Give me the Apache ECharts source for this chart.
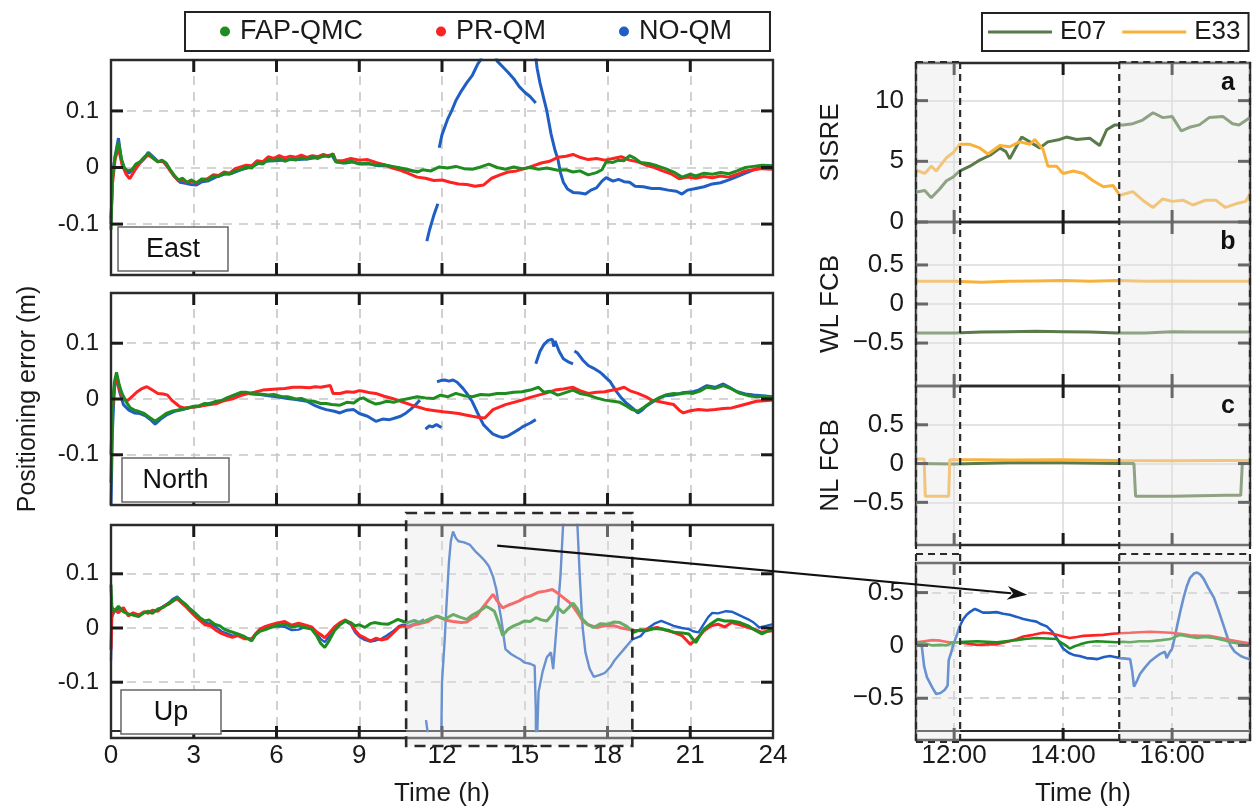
<!DOCTYPE html>
<html><head><meta charset="utf-8">
<script src="https://cdn.jsdelivr.net/npm/echarts@6/dist/echarts.min.js"></script>
<style>html,body{margin:0;padding:0;background:#fff}#c{width:1253px;height:808px}</style>
</head><body><div id="c"></div>
<script>
// ---------------- DATA ----------------
const seriesNames = ['FAP-QMC', 'PR-QM', 'NO-QM'];
const satNames = ['E07', 'E33'];
const panelLabels = ['East', 'North', 'Up'];
const leftXTicks = [3, 6, 9, 12, 15, 18, 21];
const leftYTicks = [-0.1, 0, 0.1];
const rightXTicks = [12, 14, 16];

// East component [hour, m]
const eastFAP = [[0,-0.11],[0.05,-0.02],[0.15,0.02],[0.27,0.045],[0.38,0.015],[0.48,0.0],[0.6,-0.006],[0.75,-0.004],[0.9,0.006],[1.05,0.01],[1.2,0.018],[1.35,0.025],[1.5,0.018],[1.7,0.01],[1.85,0.013],[2.0,0.008],[2.15,-0.004],[2.3,-0.014],[2.45,-0.022],[2.6,-0.019],[2.75,-0.026],[2.9,-0.022],[3.1,-0.027],[3.3,-0.02],[3.5,-0.023],[3.7,-0.015],[3.9,-0.016],[4.1,-0.01],[4.3,-0.012],[4.5,-0.006],[4.7,-0.004],[4.9,0.001],[5.1,-0.001],[5.3,0.008],[5.5,0.006],[5.7,0.014],[5.9,0.012],[6.1,0.016],[6.3,0.011],[6.5,0.015],[6.7,0.013],[6.9,0.017],[7.1,0.015],[7.3,0.019],[7.5,0.016],[7.7,0.021],[7.9,0.019],[8.05,0.024],[8.15,0.01],[8.4,0.008],[8.7,0.011],[9.0,0.006],[9.3,0.008],[9.6,0.004],[9.9,0.005],[10.2,0.002],[10.5,-0.001],[10.8,-0.004],[11.1,-0.008],[11.3,-0.004],[11.6,-0.006],[11.9,0.001],[12.2,-0.001],[12.5,0.002],[12.8,-0.002],[13.1,-0.003],[13.4,0.001],[13.7,0.006],[14.0,0.0],[14.3,-0.003],[14.6,0.001],[14.9,-0.002],[15.2,0.0],[15.5,-0.003],[15.8,-0.001],[16.2,-0.005],[16.5,-0.004],[16.75,-0.008],[17.0,-0.006],[17.3,-0.013],[17.6,-0.009],[17.8,-0.004],[17.95,0.01],[18.2,0.009],[18.4,0.013],[18.6,0.012],[18.8,0.021],[19.0,0.016],[19.2,0.009],[19.5,0.007],[19.8,0.003],[20.1,-0.002],[20.4,-0.008],[20.7,-0.017],[21.0,-0.012],[21.2,-0.015],[21.5,-0.01],[21.8,-0.012],[22.1,-0.009],[22.4,-0.011],[22.7,-0.006],[23.0,0.0],[23.3,0.002],[23.6,0.004],[24,0.003]];
const eastPR = [[0,-0.09],[0.05,-0.03],[0.15,0.015],[0.27,0.035],[0.4,0.005],[0.55,-0.012],[0.68,-0.02],[0.85,-0.006],[1.05,0.008],[1.2,0.016],[1.35,0.022],[1.5,0.017],[1.7,0.01],[1.85,0.012],[2.0,0.006],[2.15,-0.006],[2.3,-0.016],[2.45,-0.024],[2.6,-0.021],[2.75,-0.027],[2.9,-0.024],[3.1,-0.028],[3.3,-0.021],[3.5,-0.02],[3.7,-0.013],[3.9,-0.014],[4.1,-0.008],[4.3,-0.01],[4.5,-0.002],[4.7,0.001],[4.9,0.004],[5.1,0.003],[5.3,0.012],[5.5,0.01],[5.7,0.019],[5.9,0.016],[6.1,0.021],[6.3,0.017],[6.5,0.02],[6.7,0.018],[6.9,0.022],[7.1,0.018],[7.3,0.021],[7.5,0.019],[7.7,0.023],[7.9,0.02],[8.05,0.024],[8.15,0.012],[8.4,0.012],[8.7,0.016],[9.0,0.013],[9.3,0.014],[9.6,0.009],[9.9,0.005],[10.2,-0.001],[10.5,-0.005],[10.8,-0.011],[11.1,-0.017],[11.4,-0.019],[11.7,-0.023],[12.0,-0.022],[12.3,-0.026],[12.6,-0.029],[12.9,-0.03],[13.2,-0.033],[13.5,-0.031],[13.8,-0.019],[14.1,-0.013],[14.4,-0.008],[14.7,-0.006],[15.0,-0.002],[15.3,0.003],[15.6,0.008],[15.9,0.011],[16.2,0.018],[16.5,0.02],[16.75,0.023],[17.0,0.018],[17.3,0.014],[17.6,0.016],[17.9,0.013],[18.2,0.016],[18.5,0.019],[18.8,0.013],[19.1,0.01],[19.4,0.004],[19.7,0.0],[20.0,-0.006],[20.3,-0.011],[20.6,-0.02],[20.9,-0.017],[21.2,-0.019],[21.5,-0.016],[21.8,-0.018],[22.1,-0.015],[22.4,-0.017],[22.7,-0.012],[23.0,-0.006],[23.3,-0.004],[23.6,-0.002],[24,-0.003]];
const eastNO = [[0,-0.1],[0.05,-0.015],[0.15,0.02],[0.27,0.052],[0.38,0.012],[0.5,-0.003],[0.65,-0.01],[0.8,-0.003],[1.0,0.006],[1.2,0.015],[1.35,0.027],[1.5,0.02],[1.7,0.011],[1.9,0.01],[2.1,-0.002],[2.3,-0.016],[2.5,-0.026],[2.7,-0.028],[2.9,-0.03],[3.1,-0.031],[3.3,-0.025],[3.5,-0.024],[3.8,-0.017],[4.1,-0.012],[4.4,-0.01],[4.7,-0.004],[5.0,0.0],[5.3,0.006],[5.6,0.011],[5.9,0.012],[6.2,0.013],[6.5,0.014],[6.8,0.014],[7.1,0.015],[7.4,0.017],[7.7,0.02],[8.0,0.022],[8.15,0.01],[8.5,0.008],[8.8,0.01],[9.1,0.006],[9.4,0.006],[9.7,0.003],[10.0,0.003],[10.3,0.0],[10.6,-0.003],[10.9,-0.006],[11.2,-0.007],[11.3,null],[11.45,-0.13],[11.55,-0.11],[11.7,-0.085],[11.85,-0.064],[11.87,null],[11.9,0.035],[12.0,0.058],[12.2,0.085],[12.35,0.1],[12.5,0.118],[12.7,0.135],[12.9,0.15],[13.1,0.163],[13.3,0.183],[13.4,0.19],[13.6,0.23],[13.8,0.22],[14.0,0.188],[14.2,0.178],[14.4,0.168],[14.6,0.157],[14.8,0.143],[15.0,0.133],[15.2,0.125],[15.4,0.114],[15.41,null],[15.36,0.21],[15.45,0.175],[15.55,0.15],[15.7,0.12],[15.8,0.1],[15.95,0.06],[16.1,0.03],[16.2,0.015],[16.3,-0.01],[16.4,-0.026],[16.55,-0.038],[16.75,-0.044],[17.0,-0.045],[17.2,-0.047],[17.4,-0.04],[17.6,-0.036],[17.8,-0.024],[17.95,-0.018],[18.2,-0.024],[18.4,-0.021],[18.6,-0.025],[18.8,-0.026],[19.0,-0.033],[19.3,-0.034],[19.6,-0.037],[19.9,-0.037],[20.2,-0.04],[20.5,-0.042],[20.7,-0.047],[20.9,-0.04],[21.2,-0.037],[21.5,-0.034],[21.8,-0.029],[22.1,-0.027],[22.4,-0.022],[22.7,-0.016],[23.0,-0.01],[23.3,-0.004],[23.6,0.001],[24,0.002]];

// North component
const northFAP = [[0,-0.15],[0.05,-0.02],[0.12,0.03],[0.2,0.048],[0.3,0.025],[0.4,0.01],[0.55,-0.005],[0.7,-0.016],[0.85,-0.02],[1.0,-0.022],[1.2,-0.026],[1.4,-0.033],[1.6,-0.04],[1.8,-0.033],[2.0,-0.026],[2.2,-0.022],[2.4,-0.02],[2.6,-0.018],[2.8,-0.016],[3.0,-0.013],[3.2,-0.012],[3.4,-0.008],[3.6,-0.009],[3.8,-0.004],[4.0,-0.003],[4.2,0.002],[4.45,0.007],[4.7,0.012],[4.9,0.012],[5.1,0.01],[5.4,0.009],[5.7,0.007],[5.9,0.008],[6.2,0.004],[6.4,0.004],[6.7,0.0],[6.9,0.001],[7.1,-0.003],[7.35,-0.004],[7.6,-0.008],[7.8,-0.008],[8.0,-0.01],[8.3,-0.011],[8.55,-0.006],[8.8,-0.007],[9.0,0.0],[9.15,0.002],[9.35,-0.004],[9.6,-0.009],[9.8,-0.007],[10.0,-0.004],[10.25,-0.006],[10.5,-0.002],[10.8,0.001],[11.1,0.004],[11.4,0.002],[11.7,0.001],[11.95,0.007],[12.2,0.004],[12.5,0.01],[12.8,0.006],[13.1,0.004],[13.4,0.008],[13.7,0.007],[14.0,0.01],[14.3,0.01],[14.6,0.012],[14.9,0.013],[15.2,0.016],[15.5,0.021],[15.7,0.012],[15.9,0.014],[16.2,0.007],[16.5,0.012],[16.75,0.016],[17.0,0.01],[17.3,0.007],[17.6,0.002],[17.9,-0.002],[18.2,-0.004],[18.45,-0.006],[18.7,-0.013],[18.9,-0.019],[19.1,-0.022],[19.35,-0.014],[19.6,-0.005],[19.9,0.003],[20.1,0.007],[20.4,0.01],[20.6,0.009],[20.9,0.011],[21.1,0.01],[21.35,0.014],[21.6,0.021],[21.9,0.019],[22.2,0.024],[22.5,0.018],[22.8,0.01],[23.1,0.006],[23.4,0.004],[23.7,0.005],[24,0.003]];
const northPR = [[0,-0.1],[0.05,-0.02],[0.15,0.03],[0.22,0.04],[0.32,0.015],[0.45,0.0],[0.6,-0.003],[0.8,0.006],[0.95,0.013],[1.1,0.018],[1.3,0.022],[1.5,0.016],[1.7,0.01],[1.9,0.009],[2.05,0.007],[2.2,-0.002],[2.35,-0.008],[2.5,-0.014],[2.65,-0.016],[2.9,-0.015],[3.1,-0.014],[3.3,-0.012],[3.6,-0.01],[3.85,-0.008],[4.1,-0.003],[4.45,0.001],[4.7,0.006],[5.0,0.01],[5.2,0.012],[5.5,0.016],[5.75,0.017],[6.0,0.018],[6.3,0.019],[6.6,0.021],[6.9,0.021],[7.2,0.02],[7.4,0.022],[7.6,0.021],[7.8,0.023],[7.95,0.024],[8.05,0.01],[8.3,0.01],[8.55,0.013],[8.8,0.012],[9.0,0.015],[9.15,0.014],[9.4,0.011],[9.6,0.01],[9.9,0.005],[10.2,0.001],[10.5,-0.004],[10.85,-0.01],[11.1,-0.014],[11.45,-0.019],[11.75,-0.021],[12.05,-0.023],[12.3,-0.024],[12.6,-0.026],[12.9,-0.029],[13.1,-0.031],[13.35,-0.033],[13.55,-0.034],[13.85,-0.019],[14.1,-0.014],[14.3,-0.01],[14.6,-0.006],[14.9,-0.002],[15.2,0.003],[15.5,0.007],[15.8,0.011],[16.1,0.016],[16.4,0.018],[16.75,0.021],[17.0,0.015],[17.3,0.01],[17.6,0.012],[17.9,0.013],[18.2,0.016],[18.4,0.018],[18.6,0.021],[18.85,0.014],[19.1,0.01],[19.4,0.004],[19.6,-0.002],[19.9,-0.005],[20.2,-0.008],[20.4,-0.01],[20.6,-0.02],[20.75,-0.025],[21.0,-0.021],[21.3,-0.019],[21.6,-0.02],[21.9,-0.019],[22.2,-0.017],[22.5,-0.016],[22.8,-0.012],[23.1,-0.008],[23.4,-0.004],[23.7,-0.003],[24,-0.002]];
const northNO = [[0,-0.19],[0.05,-0.06],[0.12,0.02],[0.2,0.04],[0.3,0.015],[0.45,-0.01],[0.65,-0.02],[0.85,-0.025],[1.05,-0.026],[1.25,-0.03],[1.45,-0.038],[1.6,-0.045],[1.8,-0.036],[2.0,-0.029],[2.3,-0.022],[2.6,-0.019],[2.9,-0.015],[3.2,-0.013],[3.5,-0.009],[3.8,-0.005],[4.1,-0.002],[4.45,0.006],[4.8,0.011],[5.1,0.009],[5.4,0.008],[5.7,0.006],[6.0,0.004],[6.4,0.001],[6.7,-0.001],[7.1,-0.004],[7.4,-0.012],[7.6,-0.016],[7.8,-0.019],[8.1,-0.022],[8.3,-0.025],[8.55,-0.02],[8.8,-0.019],[9.0,-0.026],[9.3,-0.031],[9.6,-0.04],[9.85,-0.036],[10.1,-0.037],[10.3,-0.034],[10.5,-0.031],[10.7,-0.025],[10.85,-0.019],[11.05,-0.01],[11.2,-0.002],[11.3,null],[11.4,-0.054],[11.55,-0.048],[11.65,-0.05],[11.8,-0.046],[11.98,-0.051],[11.9,null],[11.82,0.031],[11.95,0.033],[12.1,0.034],[12.25,0.032],[12.4,0.034],[12.55,0.03],[12.76,0.019],[12.9,0.01],[13.1,-0.005],[13.3,-0.026],[13.5,-0.046],[13.7,-0.056],[13.85,-0.063],[14.05,-0.067],[14.2,-0.069],[14.4,-0.066],[14.6,-0.06],[14.8,-0.054],[14.95,-0.049],[15.2,-0.043],[15.4,-0.037],[15.41,null],[15.4,0.063],[15.55,0.085],[15.7,0.098],[15.85,0.105],[16.0,0.107],[16.05,0.094],[16.1,0.104],[16.25,0.085],[16.4,0.072],[16.6,0.066],[16.75,0.063],[16.77,null],[16.8,0.086],[16.9,0.083],[17.1,0.07],[17.3,0.06],[17.5,0.055],[17.7,0.049],[17.8,0.045],[17.95,0.038],[18.1,0.031],[18.3,0.015],[18.5,0.002],[18.7,-0.008],[18.9,-0.016],[19.1,-0.025],[19.25,-0.02],[19.4,-0.013],[19.65,-0.005],[19.9,0.002],[20.1,0.006],[20.4,0.007],[20.7,0.011],[21.1,0.013],[21.3,0.016],[21.6,0.024],[21.9,0.021],[22.2,0.027],[22.45,0.02],[22.7,0.013],[23.0,0.009],[23.3,0.007],[23.6,0.006],[24,0.004]];

// Up component
const upFAP = [[0,0.08],[0.03,0.04],[0.1,0.03],[0.27,0.04],[0.45,0.03],[0.63,0.026],[0.8,0.024],[1.0,0.021],[1.2,0.028],[1.35,0.031],[1.5,0.027],[1.7,0.035],[1.9,0.038],[2.1,0.046],[2.25,0.05],[2.4,0.056],[2.55,0.05],[2.7,0.044],[2.85,0.036],[3.04,0.028],[3.2,0.02],[3.4,0.013],[3.55,0.015],[3.75,0.007],[3.95,0.004],[4.1,-0.002],[4.3,-0.006],[4.6,-0.011],[4.85,-0.016],[5.1,-0.024],[5.25,-0.012],[5.4,-0.006],[5.6,-0.003],[5.8,0.001],[6.0,0.005],[6.3,0.007],[6.55,0.002],[6.8,0.004],[7.0,0.001],[7.27,-0.002],[7.45,-0.014],[7.6,-0.028],[7.75,-0.036],[7.9,-0.024],[8.1,-0.005],[8.3,0.006],[8.5,0.013],[8.7,0.01],[8.85,0.004],[9.0,0.006],[9.2,0.001],[9.4,0.008],[9.55,0.01],[9.8,0.008],[10.05,0.007],[10.25,0.012],[10.4,0.016],[10.6,0.012],[10.75,0.01],[11.0,0.014],[11.2,0.01],[11.4,0.013],[11.6,0.018],[11.85,0.022],[12.1,0.016],[12.4,0.025],[12.65,0.02],[12.9,0.016],[13.1,0.024],[13.25,0.028],[13.45,0.034],[13.6,0.04],[13.75,0.036],[13.9,0.031],[14.05,0.01],[14.2,-0.014],[14.4,-0.002],[14.6,0.004],[14.8,0.008],[15.0,0.013],[15.2,0.012],[15.4,0.019],[15.6,0.015],[15.8,0.013],[16.0,0.025],[16.15,0.04],[16.4,0.028],[16.6,0.038],[16.75,0.046],[16.9,0.036],[17.1,0.016],[17.3,0.006],[17.5,0.001],[17.75,0.008],[18.0,0.007],[18.25,0.011],[18.45,0.01],[18.7,0.003],[18.95,-0.008],[19.2,-0.003],[19.4,-0.005],[19.7,-0.001],[19.95,-0.002],[20.2,-0.004],[20.4,-0.008],[20.7,-0.009],[20.95,-0.011],[21.2,-0.027],[21.35,-0.014],[21.5,-0.002],[21.75,0.008],[22.0,0.016],[22.25,0.013],[22.5,0.013],[22.8,0.01],[23.1,0.004],[23.35,-0.004],[23.6,-0.011],[23.8,-0.006],[24,-0.002]];
const upPR = [[0,-0.04],[0.03,0.02],[0.12,0.035],[0.27,0.028],[0.45,0.038],[0.63,0.022],[0.8,0.028],[1.0,0.024],[1.2,0.03],[1.35,0.027],[1.5,0.033],[1.7,0.031],[1.9,0.04],[2.1,0.044],[2.25,0.05],[2.4,0.054],[2.55,0.047],[2.7,0.04],[2.85,0.032],[3.04,0.022],[3.2,0.015],[3.4,0.006],[3.6,0.004],[3.8,-0.004],[4.0,-0.01],[4.2,-0.014],[4.4,-0.017],[4.6,-0.014],[4.85,-0.02],[5.1,-0.02],[5.25,-0.01],[5.4,-0.002],[5.6,0.003],[5.8,0.006],[6.0,0.009],[6.3,0.012],[6.55,0.005],[6.8,0.009],[7.0,0.006],[7.27,0.002],[7.45,-0.007],[7.6,-0.012],[7.75,-0.018],[7.9,-0.01],[8.1,0.002],[8.3,0.01],[8.5,0.015],[8.7,0.008],[8.85,-0.004],[9.0,-0.013],[9.2,-0.018],[9.4,-0.024],[9.6,-0.019],[9.8,-0.022],[10.0,-0.02],[10.25,-0.008],[10.45,0.002],[10.6,0.004],[10.8,0.001],[11.0,0.006],[11.2,0.008],[11.5,0.012],[11.8,0.022],[12.0,0.018],[12.2,0.014],[12.4,0.012],[12.7,0.01],[12.9,0.011],[13.1,0.018],[13.25,0.022],[13.45,0.036],[13.6,0.046],[13.85,0.062],[14.0,0.05],[14.2,0.037],[14.4,0.042],[14.6,0.046],[14.8,0.05],[15.0,0.056],[15.25,0.06],[15.5,0.066],[15.75,0.068],[16.0,0.071],[16.2,0.064],[16.4,0.056],[16.6,0.048],[16.75,0.04],[16.95,0.025],[17.1,0.013],[17.3,0.006],[17.6,0.001],[17.9,0.004],[18.25,0.004],[18.5,0.0],[18.7,-0.002],[18.95,-0.004],[19.2,-0.005],[19.5,-0.002],[19.8,0.001],[20.1,-0.004],[20.4,-0.008],[20.7,-0.014],[21.0,-0.03],[21.2,-0.022],[21.5,-0.005],[21.75,0.004],[22.0,0.007],[22.25,0.002],[22.5,0.01],[22.8,0.006],[23.1,0.001],[23.35,-0.003],[23.6,-0.008],[23.8,-0.006],[24,-0.005]];
const upNO = [[0,-0.06],[0.03,0.02],[0.12,0.03],[0.27,0.035],[0.45,0.03],[0.63,0.025],[0.8,0.026],[1.0,0.022],[1.2,0.029],[1.35,0.03],[1.5,0.03],[1.7,0.034],[1.9,0.04],[2.1,0.047],[2.25,0.054],[2.4,0.058],[2.55,0.05],[2.7,0.043],[2.85,0.034],[3.04,0.026],[3.2,0.018],[3.4,0.01],[3.6,0.008],[3.8,0.002],[4.0,-0.006],[4.2,-0.01],[4.4,-0.014],[4.6,-0.013],[4.85,-0.018],[5.1,-0.022],[5.25,-0.011],[5.4,-0.004],[5.6,0.0],[5.8,0.002],[6.0,0.003],[6.3,0.002],[6.55,-0.004],[6.8,-0.003],[7.0,0.001],[7.27,0.0],[7.45,-0.01],[7.6,-0.02],[7.75,-0.026],[7.9,-0.016],[8.1,-0.002],[8.3,0.008],[8.5,0.012],[8.7,0.006],[8.85,-0.008],[9.0,-0.016],[9.2,-0.022],[9.4,-0.025],[9.6,-0.023],[9.8,-0.02],[10.0,-0.014],[10.25,-0.005],[10.45,0.004],[10.6,0.006],[10.8,0.004],[11.0,0.008],[11.2,0.012],[11.35,0.016],[11.38,null],[11.42,-0.17],[11.5,-0.2],[11.6,-0.3],[11.8,-0.4],[11.95,-0.3],[12.0,-0.1],[12.1,-0.02],[12.16,0.04],[12.25,0.12],[12.32,0.16],[12.4,0.178],[12.5,0.166],[12.6,0.16],[12.8,0.158],[13.0,0.154],[13.2,0.142],[13.4,0.132],[13.55,0.124],[13.7,0.114],[13.85,0.095],[13.97,0.071],[14.05,0.045],[14.15,0.016],[14.3,-0.039],[14.5,-0.048],[14.7,-0.054],[14.85,-0.058],[15.0,-0.064],[15.2,-0.066],[15.36,-0.07],[15.4,-0.15],[15.42,-0.3],[15.45,-0.2],[15.5,-0.118],[15.65,-0.08],[15.8,-0.054],[15.95,-0.045],[16.03,-0.076],[16.15,0.0],[16.3,0.1],[16.4,0.2],[16.6,0.35],[16.8,0.3],[16.9,0.2],[17.0,0.09],[17.1,0.0],[17.2,-0.045],[17.35,-0.075],[17.5,-0.09],[17.7,-0.087],[17.9,-0.083],[18.1,-0.072],[18.25,-0.06],[18.45,-0.048],[18.6,-0.039],[18.75,-0.03],[18.9,-0.021],[19.05,-0.018],[19.2,-0.015],[19.35,-0.006],[19.5,0.001],[19.7,0.008],[19.95,0.013],[20.2,0.008],[20.4,0.004],[20.7,0.0],[20.95,-0.002],[21.1,-0.006],[21.3,-0.008],[21.5,0.008],[21.65,0.02],[21.8,0.028],[22.0,0.027],[22.3,0.031],[22.5,0.03],[22.6,0.028],[22.85,0.022],[23.1,0.016],[23.3,0.01],[23.5,0.001],[23.75,0.004],[24,0.007]];

// Right panels [hour, value]
const sisreE07 = [[11.3,2.5],[11.34,2.5],[11.46,2.6],[11.58,2.0],[11.73,2.7],[11.86,3.4],[11.98,3.7],[12.1,4.2],[12.29,4.6],[12.47,5.1],[12.66,5.5],[12.84,6.1],[12.95,5.8],[13.02,5.2],[13.14,6.2],[13.24,7.0],[13.39,6.6],[13.57,6.1],[13.72,6.6],[13.94,6.8],[14.06,7.0],[14.25,6.8],[14.49,6.9],[14.67,6.3],[14.8,7.6],[14.95,8.0],[15.1,8.0],[15.28,8.1],[15.46,8.4],[15.65,9.0],[15.83,8.6],[16.0,8.7],[16.17,7.5],[16.32,7.8],[16.5,8.0],[16.68,8.6],[16.93,8.7],[17.11,8.1],[17.23,8.0],[17.43,8.6]];
const sisreE33 = [[11.3,4.3],[11.34,4.2],[11.46,4.0],[11.58,4.6],[11.67,4.2],[11.86,5.3],[11.98,5.7],[12.1,6.4],[12.29,6.4],[12.47,6.1],[12.62,5.6],[12.84,6.3],[13.02,6.2],[13.2,6.6],[13.39,6.4],[13.48,6.8],[13.63,6.0],[13.72,4.6],[13.88,4.6],[14.0,4.0],[14.19,4.2],[14.37,4.0],[14.55,3.4],[14.74,2.9],[14.92,3.0],[15.04,2.2],[15.28,2.5],[15.46,1.8],[15.65,1.2],[15.83,1.9],[16.0,1.7],[16.2,1.8],[16.38,1.4],[16.62,1.8],[16.8,1.8],[16.98,1.2],[17.17,1.5],[17.35,1.7],[17.43,2.3]];
const wlE07 = [[11.3,-0.37],[12.0,-0.37],[12.5,-0.36],[13.0,-0.355],[13.5,-0.35],[14.0,-0.355],[14.5,-0.36],[15.0,-0.37],[15.5,-0.37],[16.0,-0.355],[16.5,-0.36],[17.0,-0.36],[17.43,-0.36]];
const wlE33 = [[11.3,0.29],[12.0,0.29],[12.5,0.28],[13.0,0.29],[13.5,0.295],[14.0,0.3],[14.5,0.29],[15.0,0.3],[15.5,0.29],[16.0,0.295],[16.5,0.29],[17.0,0.29],[17.43,0.29]];
const nlE07 = [[11.3,0.0],[12.0,-0.005],[13.0,0.01],[14.0,0.01],[15.0,0.0],[15.3,0.0],[15.33,-0.42],[16.0,-0.42],[17.0,-0.41],[17.26,-0.41],[17.29,0.02],[17.43,0.02]];
const nlE33 = [[11.3,0.06],[11.45,0.06],[11.47,-0.42],[11.9,-0.42],[11.92,0.05],[12.5,0.05],[13.0,0.045],[14.0,0.05],[15.0,0.04],[16.0,0.035],[17.0,0.04],[17.43,0.04]];
const zoomNO = [[11.3,0.03],[11.4,0.02],[11.45,-0.2],[11.5,-0.3],[11.6,-0.4],[11.67,-0.46],[11.75,-0.45],[11.83,-0.42],[11.88,-0.38],[11.9,-0.14],[11.95,-0.06],[11.98,0.0],[12.05,0.1],[12.1,0.18],[12.17,0.25],[12.23,0.29],[12.3,0.32],[12.38,0.345],[12.45,0.33],[12.53,0.31],[12.65,0.31],[12.78,0.315],[12.9,0.3],[13.02,0.29],[13.15,0.27],[13.27,0.25],[13.4,0.235],[13.51,0.225],[13.6,0.2],[13.7,0.18],[13.8,0.13],[13.88,0.07],[13.95,0.01],[14.0,-0.03],[14.1,-0.07],[14.19,-0.09],[14.3,-0.1],[14.43,-0.12],[14.55,-0.125],[14.62,-0.13],[14.75,-0.11],[14.86,-0.1],[14.95,-0.11],[15.04,-0.12],[15.15,-0.125],[15.23,-0.13],[15.27,-0.25],[15.3,-0.39],[15.36,-0.33],[15.41,-0.27],[15.5,-0.21],[15.6,-0.15],[15.7,-0.11],[15.78,-0.08],[15.87,-0.06],[15.9,-0.12],[15.95,-0.07],[16.0,-0.03],[16.05,0.08],[16.09,0.18],[16.15,0.32],[16.21,0.45],[16.27,0.56],[16.33,0.64],[16.4,0.68],[16.46,0.69],[16.52,0.67],[16.58,0.63],[16.66,0.55],[16.77,0.45],[16.86,0.32],[16.95,0.18],[17.02,0.07],[17.07,0.0],[17.15,-0.06],[17.26,-0.1],[17.35,-0.12],[17.43,-0.13]];
const zoomPR = [[11.3,0.03],[11.45,0.04],[11.6,0.05],[11.75,0.045],[11.9,0.03],[12.05,0.03],[12.2,0.02],[12.42,0.005],[12.6,0.01],[12.78,0.01],[12.9,0.025],[13.02,0.04],[13.15,0.06],[13.27,0.085],[13.45,0.1],[13.63,0.12],[13.75,0.115],[13.88,0.1],[14.0,0.085],[14.12,0.07],[14.25,0.08],[14.37,0.09],[14.55,0.095],[14.74,0.1],[14.9,0.11],[15.05,0.115],[15.23,0.12],[15.4,0.125],[15.6,0.13],[15.8,0.125],[15.97,0.12],[16.15,0.11],[16.33,0.095],[16.5,0.09],[16.7,0.09],[16.9,0.07],[17.07,0.05],[17.25,0.035],[17.43,0.02]];
const zoomFAP = [[11.3,0.03],[11.45,0.02],[11.6,0.0],[11.75,0.005],[11.85,0.0],[11.95,0.02],[12.05,0.03],[12.2,0.035],[12.42,0.04],[12.6,0.035],[12.78,0.03],[12.95,0.04],[13.14,0.05],[13.3,0.06],[13.51,0.07],[13.7,0.065],[13.88,0.06],[13.95,0.03],[14.05,0.0],[14.12,-0.03],[14.2,-0.01],[14.31,0.01],[14.45,0.03],[14.62,0.04],[14.8,0.035],[14.98,0.03],[15.1,0.035],[15.23,0.03],[15.4,0.04],[15.6,0.04],[15.8,0.05],[15.97,0.06],[16.05,0.08],[16.15,0.1],[16.3,0.085],[16.46,0.07],[16.6,0.08],[16.77,0.07],[16.95,0.05],[17.07,0.03],[17.25,0.015],[17.43,0.0]];

// ---------------- STYLE / LAYOUT ----------------
const FONT = 'Liberation Sans, Arial, Helvetica, sans-serif';
const C = { 'FAP-QMC': '#1e8c1e', 'PR-QM': '#ff2222', 'NO-QM': '#1f5fc4', 'E07': '#5b7a4a', 'E33': '#f8b23a' };
const FRAME = '#2b2b2b';
const gridRects = [
  { left: 111, top: 60, width: 662, height: 215 },
  { left: 111, top: 293, width: 662, height: 212 },
  { left: 111, top: 525, width: 662, height: 213 },
  { left: 916, top: 63, width: 334, height: 159 },
  { left: 916, top: 222, width: 334, height: 164 },
  { left: 916, top: 386, width: 334, height: 159 },
  { left: 916, top: 563, width: 334, height: 177 }
];
const grids = gridRects.map(g => Object.assign({ show: false, containLabel: false }, g));

const noTick = { show: false };
function axLine() { return { show: true, onZero: false, lineStyle: { color: FRAME, width: 2 } }; }
const dashGrid = { show: true, lineStyle: { color: '#c6c6c6', width: 1.6, type: [9, 7] } };
const solidGrid = { show: true, lineStyle: { color: '#dadada', width: 1.5 } };

const xAxes = [], yAxes = [];
function leftX(i, pos) {
  const bottom = pos === 'bottom';
  return { type: 'value', gridIndex: i, position: pos, min: 0, max: 24, interval: 3,
    axisLine: axLine(), axisTick: noTick,
    axisLabel: { show: bottom && i === 2, fontSize: 26, color: '#1a1a1a', fontFamily: FONT, margin: 12 },
    splitLine: bottom ? dashGrid : { show: false },
    name: bottom && i === 2 ? 'Time (h)' : '', nameLocation: 'middle', nameGap: 50,
    nameTextStyle: { fontSize: 26, color: '#1a1a1a', fontFamily: FONT } };
}
function rightX(i, pos) {
  const bottom = pos === 'bottom';
  return { type: 'value', gridIndex: i, position: pos, min: 11.3, max: 17.43,
    axisLine: axLine(),
    axisTick: { show: false, customValues: rightXTicks },
    axisLabel: { show: bottom && i === 6, customValues: rightXTicks, formatter: v => v + ':00',
      fontSize: 26, color: '#1a1a1a', fontFamily: FONT, margin: 12 },
    splitLine: bottom ? (i === 6 ? dashGrid : solidGrid) : { show: false },
    name: bottom && i === 6 ? 'Time (h)' : '', nameLocation: 'middle', nameGap: 50,
    nameTextStyle: { fontSize: 26, color: '#1a1a1a', fontFamily: FONT } };
}
function leftY(i, pos) {
  const l = pos === 'left';
  return { type: 'value', gridIndex: i, position: pos, min: -0.19, max: 0.19,
    axisLine: axLine(),
    axisTick: { show: false, customValues: leftYTicks },
    axisLabel: { show: l, customValues: leftYTicks, formatter: v => v === 0 ? '0' : v.toFixed(1),
      fontSize: 24, color: '#1a1a1a', fontFamily: FONT, margin: 12 },
    splitLine: l ? dashGrid : { show: false },
    name: l && i === 1 ? 'Positioning error (m)' : '', nameLocation: 'middle', nameGap: 70,
    nameTextStyle: { fontSize: 25, color: '#1a1a1a', fontFamily: FONT } };
}
const rightYCfg = [
  { min: 0, max: 13.1, ticks: [0, 5, 10], name: 'SISRE' },
  { min: -1.05, max: 1.05, ticks: [-0.5, 0, 0.5], name: 'WL FCB' },
  { min: -1.05, max: 1.0, ticks: [-0.5, 0, 0.5], name: 'NL FCB' },
  { min: -0.81, max: 0.78, ticks: [-0.5, 0, 0.5], name: '' }
];
function rightY(i, pos) {
  const l = pos === 'left';
  const cfg = rightYCfg[i - 3];
  return { type: 'value', gridIndex: i, position: pos, min: cfg.min, max: cfg.max,
    axisLine: axLine(),
    axisTick: { show: false, customValues: cfg.ticks },
    axisLabel: { show: l, customValues: cfg.ticks, formatter: v => v < 0 ? '\u2212' + Math.abs(v) : String(v),
      fontSize: 26, color: '#1a1a1a', fontFamily: FONT, margin: 12 },
    splitLine: l ? (i === 6 ? dashGrid : solidGrid) : { show: false },
    name: l ? cfg.name : '', nameLocation: 'middle', nameGap: 72,
    nameTextStyle: { fontSize: 26, color: '#1a1a1a', fontFamily: FONT } };
}
for (let i = 0; i < 7; i++) { xAxes.push(i < 3 ? leftX(i, 'bottom') : rightX(i, 'bottom')); yAxes.push(i < 3 ? leftY(i, 'left') : rightY(i, 'left')); }
for (let i = 0; i < 7; i++) { xAxes.push(i < 3 ? leftX(i, 'top') : rightX(i, 'top')); yAxes.push(i < 3 ? leftY(i, 'right') : rightY(i, 'right')); }

function line(name, gi, data, width, z) {
  return { type: 'line', name, xAxisIndex: gi, yAxisIndex: gi, data, symbol: 'none', showSymbol: false,
    connectNulls: false, clip: true, z: z || 2,
    lineStyle: { color: C[name], width: width || 3 }, itemStyle: { color: C[name] } };
}
const series = [
  line('NO-QM', 0, eastNO, 3, 2), line('PR-QM', 0, eastPR, 3, 3), line('FAP-QMC', 0, eastFAP, 3, 4),
  line('NO-QM', 1, northNO, 3, 2), line('PR-QM', 1, northPR, 3, 3), line('FAP-QMC', 1, northFAP, 3, 4),
  line('NO-QM', 2, upNO, 2.4, 2), line('PR-QM', 2, upPR, 3, 3), line('FAP-QMC', 2, upFAP, 3, 4),
  line('E07', 3, sisreE07, 3), line('E33', 3, sisreE33, 3),
  line('E07', 4, wlE07, 3), line('E33', 4, wlE33, 3),
  line('E07', 5, nlE07, 3), line('E33', 5, nlE33, 3),
  line('NO-QM', 6, zoomNO, 2.6, 2), line('PR-QM', 6, zoomPR, 2.6, 3), line('FAP-QMC', 6, zoomFAP, 2.6, 4)
];

const option = {
  animation: false,
  backgroundColor: '#fff',
  textStyle: { fontFamily: FONT },
  grid: grids, xAxis: xAxes, yAxis: yAxes, series,
  legend: [
    { data: seriesNames, left: 185, top: 12, icon: 'circle', itemWidth: 10, itemHeight: 10, itemGap: 73,
      padding: [6, 38, 6, 35], borderColor: '#222', borderWidth: 2, borderRadius: 0,
      textStyle: { fontSize: 27, color: '#1a1a1a', fontFamily: FONT, padding: [0, 0, 0, 5] } },
    { data: satNames, left: 982, top: 13, icon: 'rect', itemWidth: 64, itemHeight: 3, itemGap: 16,
      padding: [6, 8, 6, 6], borderColor: '#222', borderWidth: 2, borderRadius: 0,
      textStyle: { fontSize: 26, color: '#1a1a1a', fontFamily: FONT, padding: [0, 0, 0, 3] } }
  ]
};

const chart = echarts.init(document.getElementById('c'), null, { renderer: 'canvas' });
chart.setOption(option);

// ------------- decorations (computed from the axes) -------------
const P = (g, x, y) => chart.convertToPixel({ gridIndex: g }, [x, y]);
const g = [];
const SHADE = 'rgba(228,228,228,0.38)';
const DASH = { stroke: '#2a2a2a', lineWidth: 2.2, lineDash: [7, 5] };
const TICK = { stroke: '#1a1a1a', lineWidth: 3 };
const TL = 12;

// plot frames + inward ticks on all four sides
gridRects.forEach((r, gi) => {
  g.push({ type: 'rect', z: 90, shape: { x: r.left, y: r.top, width: r.width, height: r.height },
    style: { fill: null, stroke: FRAME, lineWidth: 2.4 } });
  const xs = gi < 3 ? leftXTicks : rightXTicks;
  const ys = gi < 3 ? leftYTicks : rightYCfg[gi - 3].ticks;
  const x0 = gi < 3 ? 0 : 11.3, y0 = gi < 3 ? 0 : rightYCfg[gi - 3].min;
  xs.forEach(v => {
    const px = P(gi, v, y0)[0];
    g.push({ type: 'line', z: 91, shape: { x1: px, y1: r.top, x2: px, y2: r.top + TL }, style: TICK });
    g.push({ type: 'line', z: 91, shape: { x1: px, y1: r.top + r.height, x2: px, y2: r.top + r.height - TL }, style: TICK });
  });
  ys.forEach(v => {
    const py = P(gi, x0, v)[1];
    g.push({ type: 'line', z: 91, shape: { x1: r.left, y1: py, x2: r.left + TL, y2: py }, style: TICK });
    g.push({ type: 'line', z: 91, shape: { x1: r.left + r.width, y1: py, x2: r.left + r.width - TL, y2: py }, style: TICK });
  });
});

// zoom window in the Up panel
const bx0 = P(2, 10.7, 0)[0], bx1 = P(2, 18.9, 0)[0];
const byT = gridRects[2].top - 12, byB = gridRects[2].top + gridRects[2].height + 8;
g.push({ type: 'rect', z: 100, shape: { x: bx0, y: byT, width: bx1 - bx0, height: byB - byT },
  style: { fill: SHADE, stroke: '#2a2a2a', lineWidth: 2.6, lineDash: [11, 7] } });

// shaded windows on the right
const rTop = gridRects[3].top - 1, rBot = gridRects[6].top + gridRects[6].height + 2;
const mid = gridRects[5].top + gridRects[5].height + 9;
const cols = [[11.3, 12.11], [15.03, 17.43]];
cols.forEach(([a, b]) => {
  const x0 = P(3, a, 0)[0], x1 = P(3, b, 0)[0];
  g.push({ type: 'rect', z: 100, shape: { x: x0, y: rTop, width: x1 - x0, height: rBot - rTop }, style: { fill: SHADE } });
  [x0, x1].forEach(x => g.push({ type: 'line', z: 101, shape: { x1: x, y1: rTop, x2: x, y2: rBot }, style: DASH }));
  [rTop, mid, rBot].forEach(y => g.push({ type: 'line', z: 101, shape: { x1: x0, y1: y, x2: x1, y2: y }, style: DASH }));
});

// arrow from Up panel to the zoom panel
const t = P(2, 14.0, 0.152), h = P(6, 13.34, 0.48);
const ang = Math.atan2(h[1] - t[1], h[0] - t[0]);
const L = 20, W = 7;
const bxp = h[0] - L * Math.cos(ang), byp = h[1] - L * Math.sin(ang);
g.push({ type: 'line', z: 110, shape: { x1: t[0], y1: t[1], x2: bxp + 4 * Math.cos(ang), y2: byp + 4 * Math.sin(ang) }, style: { stroke: '#111', lineWidth: 2.2 } });
g.push({ type: 'polygon', z: 110, shape: { points: [[h[0], h[1]],
  [bxp + W * Math.sin(ang), byp - W * Math.cos(ang)], [bxp + 6 * Math.cos(ang), byp + 6 * Math.sin(ang)],
  [bxp - W * Math.sin(ang), byp + W * Math.cos(ang)]] }, style: { fill: '#111' } });

// panel name boxes
const boxes = [[118, 227, 110, 44], [122, 458, 107, 44], [121, 690, 100, 44]];
boxes.forEach((b, i) => {
  g.push({ type: 'rect', z: 120, shape: { x: b[0], y: b[1], width: b[2], height: b[3] }, style: { fill: '#fff', stroke: '#666', lineWidth: 1.5 } });
  g.push({ type: 'text', z: 121, x: b[0] + b[2] / 2, y: b[1] + b[3] / 2 + 1,
    style: { text: panelLabels[i], fontSize: 27, fontFamily: FONT, fill: '#111', align: 'center', verticalAlign: 'middle' } });
});
// panel letters
[['a', 3], ['b', 4], ['c', 5]].forEach(([s, gi]) => {
  g.push({ type: 'text', z: 121, x: gridRects[gi].left + gridRects[gi].width - 22, y: gridRects[gi].top + 20,
    style: { text: s, fontSize: 25, fontWeight: 'bold', fontFamily: FONT, fill: '#111', align: 'center', verticalAlign: 'middle' } });
});
chart.setOption({ graphic: { elements: g } });
</script>
</body></html>
